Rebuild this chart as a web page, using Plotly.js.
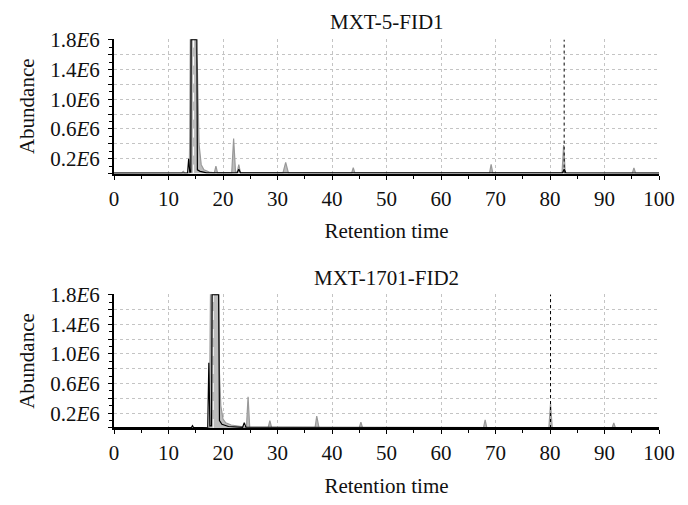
<!DOCTYPE html>
<html>
<head>
<title>Chromatograms</title>
<script src="https://cdn.plot.ly/plotly-3.0.1.min.js"></script>
<style>
	body { margin: 0; background-color: white; }
</style>
</head>
<body>
<div id="chart" style="width:688px;height:505px;"></div>
<script>
	// retention time (min) and abundance (in E6 units)
	var fid1BlackT = [0, 12.0, 13.5, 13.7, 13.9, 14.1, 14.15, 15.2, 15.3, 15.8, 17.0, 22.6, 22.9, 23.2, 82.3, 82.6, 82.9, 100];
	var fid1BlackY = [0.005, 0.01, 0.01, 0.2, 0.02, 0.02, 1.8, 1.8, 0.05, 0.03, 0.01, 0.01, 0.06, 0.01, 0.01, 0.06, 0.01, 0.005];
	var fid1GrayT = [0, 12.4, 12.7, 13.0, 13.8, 13.9, 14.0, 15.0, 15.3, 15.6, 16.0, 16.5, 17.5, 18.4, 18.7, 19.0, 21.6, 21.95, 22.3, 22.6, 22.9, 23.2, 31.0, 31.5, 32.0, 43.6, 43.9, 44.2, 68.9, 69.2, 69.5, 82.2, 82.5, 82.8, 95.1, 95.4, 95.7, 100];
	var fid1GrayY = [0.005, 0.005, 0.03, 0.005, 0.005, 0.5, 1.8, 1.8, 1.4, 0.4, 0.12, 0.05, 0.02, 0.01, 0.1, 0.01, 0.01, 0.47, 0.02, 0.02, 0.12, 0.01, 0.01, 0.15, 0.01, 0.005, 0.08, 0.005, 0.005, 0.125, 0.005, 0.005, 0.385, 0.005, 0.005, 0.077, 0.005, 0.005];

	var fid2BlackT = [0, 14.2, 14.4, 14.6, 17.2, 17.4, 17.6, 17.9, 18.0, 19.2, 19.35, 19.8, 21.0, 23.6, 23.9, 24.2, 100];
	var fid2BlackY = [0.005, 0.005, 0.03, 0.005, 0.01, 0.88, 0.03, 0.03, 1.8, 1.8, 0.1, 0.05, 0.02, 0.01, 0.07, 0.01, 0.005];
	var fid2GrayT = [0, 17.5, 17.7, 19.2, 19.35, 19.6, 20.0, 20.5, 21.5, 23.0, 24.3, 24.6, 24.9, 28.3, 28.6, 28.9, 36.9, 37.2, 37.6, 45.0, 45.3, 45.6, 67.8, 68.1, 68.4, 79.8, 80.1, 80.4, 91.4, 91.7, 92.0, 100];
	var fid2GrayY = [0.005, 0.005, 1.8, 1.8, 0.74, 0.3, 0.12, 0.07, 0.04, 0.02, 0.01, 0.42, 0.01, 0.01, 0.1, 0.01, 0.01, 0.16, 0.01, 0.005, 0.08, 0.005, 0.005, 0.11, 0.005, 0.005, 0.33, 0.005, 0.005, 0.07, 0.005, 0.005];

	// marker lines: dashed inside the main peak, dotted at the late peak
	var fid1Dash = 14.6, fid1Dot = 82.6;
	var fid2Dash = 18.2, fid2Dot = 80.1;

	var titles = ['MXT-5-FID1', 'MXT-1701-FID2'];
	var yTickVals = [0, 0.2, 0.4, 0.6, 0.8, 1.0, 1.2, 1.4, 1.6, 1.8];
	var yTickText = ['', '0.2<i>E</i>6', '', '0.6<i>E</i>6', '', '1.0<i>E</i>6', '', '1.4<i>E</i>6', '', '1.8<i>E</i>6'];
	var xTickVals = [0, 10, 20, 30, 40, 50, 60, 70, 80, 90, 100];

	var font = 'Liberation Serif, Times New Roman, serif';

	function traces(bt, by, gt, gy, dash, dot, xa, ya) {
		return [
			{x: gt, y: gy, xaxis: xa, yaxis: ya, type: 'scatter', mode: 'lines', fill: 'tozeroy',
			 fillcolor: '#bdbdbd', line: {color: '#999999', width: 1.2}},
			{x: [dash, dash], y: [0, 1.8], xaxis: xa, yaxis: ya, type: 'scatter', mode: 'lines',
			 line: {color: 'white', width: 1, dash: 'dash'}},
			{x: bt, y: by, xaxis: xa, yaxis: ya, type: 'scatter', mode: 'lines',
			 line: {color: 'black', width: 1.2}},
			{x: [dot, dot], y: [0, 1.8], xaxis: xa, yaxis: ya, type: 'scatter', mode: 'lines',
			 line: {color: 'black', width: 1, dash: 'dot'}}
		];
	}

	var data = traces(fid1BlackT, fid1BlackY, fid1GrayT, fid1GrayY, fid1Dash, fid1Dot, 'x', 'y')
		.concat(traces(fid2BlackT, fid2BlackY, fid2GrayT, fid2GrayY, fid2Dash, fid2Dot, 'x2', 'y2'));

	function xaxis(anchor) {
		return {
			anchor: anchor, range: [0, 100], tickmode: 'array', tickvals: xTickVals,
			showline: true, linecolor: 'black', linewidth: 2,
			ticks: 'outside', ticklen: 4, tickwidth: 1, tickcolor: 'black', ticklabelstandoff: 1,
			minor: {dtick: 5, ticks: 'outside', ticklen: 3, tickcolor: 'black'},
			showgrid: true, gridcolor: '#c4c4c4', griddash: 'dot', gridwidth: 1,
			zeroline: false, tickfont: {family: font, size: 21, color: '#111'},
			title: {text: 'Retention time', font: {family: font, size: 21, color: '#111'}, standoff: 14}
		};
	}

	function yaxis(anchor, domain) {
		return {
			anchor: anchor, domain: domain, range: [0, 1.81],
			tickmode: 'array', tickvals: yTickVals, ticktext: yTickText,
			showline: true, linecolor: 'black', linewidth: 2,
			ticks: 'outside', ticklen: 4, tickwidth: 1, tickcolor: 'black', ticklabelstandoff: 4,
			minor: {dtick: 0.1, ticks: 'outside', ticklen: 3, tickcolor: 'black', showgrid: false},
			showgrid: true, gridcolor: '#c4c4c4', griddash: 'dot', gridwidth: 1,
			zeroline: false, tickfont: {family: font, size: 21, color: '#111'},
			title: {text: 'Abundance', font: {family: font, size: 21, color: '#111'}, standoff: 10}
		};
	}

	var layout = {
		width: 688,
		height: 505,
		margin: {l: 114, r: 29, t: 39, b: 77},
		paper_bgcolor: 'white',
		plot_bgcolor: 'white',
		showlegend: false,
		xaxis: xaxis('y'),
		yaxis: yaxis('x', [0.654, 1]),
		xaxis2: xaxis('y2'),
		yaxis2: yaxis('x2', [0, 0.3445]),
		annotations: [
			{text: titles[0], xref: 'paper', yref: 'paper', x: 0.5, y: 1.044, yanchor: 'middle',
			 showarrow: false, font: {family: font, size: 21, color: '#111'}},
			{text: titles[1], xref: 'paper', yref: 'paper', x: 0.5, y: 0.386, yanchor: 'middle',
			 showarrow: false, font: {family: font, size: 21, color: '#111'}}
		]
	};

	Plotly.newPlot('chart', data, layout, {staticPlot: true});
</script>
</body>
</html>
